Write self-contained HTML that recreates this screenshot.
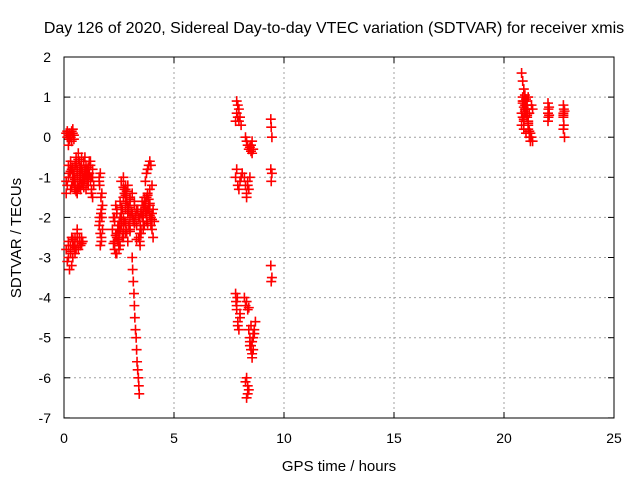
<!DOCTYPE html>
<html><head><meta charset="utf-8"><style>
body{margin:0;background:#fff}
svg{display:block;font-family:"Liberation Sans",sans-serif}
</style></head><body>
<svg id="chart" width="640" height="480">
<rect x="0" y="0" width="640" height="480" fill="#fff"/>
<g id="grid"></g>
<g id="axes"></g>
<g id="marks"></g>
<text x="334" y="33" font-size="16" text-anchor="middle">Day 126 of 2020, Sidereal Day-to-day VTEC variation (SDTVAR) for receiver xmis</text>
<text x="339" y="471" font-size="15" text-anchor="middle">GPS time / hours</text>
<text transform="translate(21,238) rotate(-90)" font-size="15" text-anchor="middle">SDTVAR / TECUs</text>
</svg>
<script>
const xTicks=[0,5,10,15,20,25];
const yTicks=[2,1,0,-1,-2,-3,-4,-5,-6,-7];
const times=[0.1,0.15,0.2,0.25,0.3,0.35,0.4,0.45,0.2,0.3,0.4,0.1,0.15,0.2,0.25,0.3,0.35,0.4,0.45,0.5,0.1,0.2,0.3,
0.1,0.15,0.2,0.3,0.35,0.4,0.5,0.55,0.6,0.7,0.75,0.8,0.85,0.2,0.3,0.4,0.5,0.6,0.7,0.25,0.35,0.45,0.65,
0.4,0.5,0.55,0.6,0.65,0.7,0.75,0.8,0.85,0.9,0.95,1.0,1.05,1.1,1.15,1.2,1.25,1.3,0.6,0.7,0.8,0.9,1.0,1.1,1.2,1.3,0.5,0.6,0.7,0.8,0.9,1.0,1.1,1.2,1.3,1.35,0.45,0.55,0.75,0.95,1.15,1.25,
1.6,1.62,1.65,1.68,1.7,1.72,1.75,1.6,1.65,1.7,1.62,1.68,1.75,1.6,1.7,1.65,1.72,1.63,
2.2,2.3,2.4,2.5,2.6,2.7,2.8,2.9,3.0,2.3,2.4,2.5,2.6,2.7,2.8,2.9,3.0,3.1,2.25,2.35,2.45,2.55,2.65,2.75,2.85,2.95,2.4,2.5,2.6,2.7,2.8,2.9,3.0,3.1,3.2,3.3,3.4,2.6,2.7,2.75,2.8,2.85,2.9,3.0,3.2,3.3,2.3,2.35,2.45,2.5,2.55,
3.1,3.12,3.15,3.18,3.2,3.22,3.25,3.28,3.3,3.32,3.35,3.38,3.4,3.42,3.44,3.45,3.46,3.47,
3.4,3.5,3.6,3.7,3.8,3.9,4.0,4.05,3.45,3.55,3.65,3.75,3.85,3.95,4.0,3.5,3.6,3.7,3.8,3.9,4.0,3.7,3.75,3.8,3.85,3.9,3.95,4.05,4.1,3.5,3.6,3.65,3.75,3.85,
7.8,7.85,7.9,7.95,8.0,8.05,7.85,7.9,7.95,7.8,7.9,8.0,8.1,7.85,7.95,8.05,
8.25,8.3,8.35,8.4,8.45,8.5,8.55,8.6,8.5,8.55,8.2,8.25,8.3,8.35,8.4,8.45,8.3,8.35,
9.4,9.42,9.45,9.4,9.45,9.42,9.4,9.45,9.42,
7.8,7.82,7.85,7.9,7.95,8.0,7.85,7.9,8.0,7.88,
8.2,8.25,8.3,8.35,8.4,8.3,8.35,8.4,8.3,8.25,8.35,
8.4,8.45,8.5,8.55,8.6,8.65,8.7,8.45,8.5,8.55,8.6,8.65,8.5,8.55,8.6,8.45,
20.8,20.85,20.9,20.85,20.9,20.95,21.0,20.8,20.85,20.9,20.95,21.0,21.05,21.1,20.8,20.9,21.0,21.1,20.85,20.95,21.05,21.1,21.15,21.2,21.25,21.3,21.2,21.25,21.3,21.15,
22.0,22.02,22.05,22.0,22.05,22.02,22.0,
22.7,22.72,22.7,22.75,22.7,22.72,22.7,22.75,22.7,
0.15,0.25,0.35,0.45,0.2,0.3,0.4,0.5,0.6,0.7,0.8,0.9,1.0,1.1,1.2,0.55,0.65,0.75,0.85,0.95,1.05,1.15,1.25,0.35,0.45,0.55,0.65,0.75,0.85,0.95,1.05,0.2,0.3,0.4,0.5,0.6,0.7,0.8,0.3,0.4,0.5,0.6,
2.3,2.4,2.5,2.6,2.7,2.8,2.9,3.0,3.1,3.2,2.35,2.45,2.55,2.65,2.75,2.85,2.95,3.05,3.15,3.25,3.35,2.4,2.5,2.6,2.7,2.8,2.9,2.5,2.6,2.7,2.8,3.0,3.1,3.2,3.3,2.25,2.4,2.55,2.7,2.85,
3.5,3.6,3.7,3.8,3.9,4.0,3.55,3.65,3.75,3.85,3.95,3.6,3.7,3.8,3.9,
20.85,20.9,20.95,21.0,21.05,20.9,21.0,21.05,21.1,21.15,20.95,21.0,21.1];
const values=[0.1,0.15,0.05,0.1,0.0,-0.1,0.1,-0.05,-0.2,0.05,0.2,-1.1,-1.2,-1.0,-0.9,-1.3,-0.8,-1.1,-0.9,-1.2,-1.4,-0.7,-0.6,
-2.8,-3.1,-2.6,-2.9,-3.2,-2.7,-2.5,-2.8,-2.4,-2.6,-2.7,-2.5,-2.6,-3.0,-2.7,-3.0,-2.9,-2.3,-2.6,-3.3,-2.5,-2.7,-2.8,
-0.9,-0.7,-0.5,-0.8,-0.4,-0.6,-0.9,-0.7,-1.0,-0.6,-0.8,-0.7,-1.0,-0.9,-0.6,-1.1,-1.3,-0.8,-1.2,-1.1,-0.5,-1.0,-0.9,-1.2,-0.7,-1.0,-1.3,-1.4,-1.2,-0.8,-1.1,-1.3,-1.0,-0.6,-1.5,-1.2,-1.0,-0.6,-1.3,-0.5,-0.9,-1.4,
-1.0,-1.2,-0.9,-1.5,-1.8,-2.0,-1.7,-2.2,-2.4,-2.6,-2.0,-1.9,-2.3,-1.1,-2.5,-2.7,-1.4,-2.1,
-2.3,-2.0,-1.8,-2.2,-1.9,-2.1,-2.4,-1.7,-2.0,-2.6,-2.4,-2.8,-2.2,-2.5,-1.8,-2.6,-2.3,-1.9,-2.0,-1.7,-2.3,-1.6,-2.5,-2.1,-1.5,-2.2,-2.9,-2.7,-2.0,-1.5,-1.3,-1.2,-1.6,-1.4,-1.7,-1.8,-2.0,-1.1,-1.0,-1.3,-1.2,-1.6,-1.9,-1.5,-1.6,-2.2,-2.8,-2.9,-2.6,-2.4,-2.7,
-3.0,-3.3,-3.6,-3.9,-4.2,-4.5,-4.8,-5.0,-5.3,-5.6,-5.8,-6.0,-6.2,-6.4,-2.6,-2.4,-2.7,-2.2,
-2.5,-2.3,-2.1,-1.9,-1.8,-1.7,-1.9,-2.5,-2.0,-1.6,-2.2,-1.5,-1.7,-2.0,-2.3,-2.4,-1.8,-1.6,-1.4,-1.3,-1.2,-1.1,-0.9,-0.8,-0.7,-0.6,-0.7,-1.8,-2.1,-1.9,-1.7,-1.5,-2.1,-1.8,
0.4,0.6,0.8,0.7,0.5,0.3,0.9,0.5,0.4,-1.0,-1.2,-1.1,-0.9,-0.8,-1.3,-1.0,
0.0,-0.1,-0.2,-0.3,-0.25,-0.35,-0.4,-0.3,-0.2,-0.1,-1.0,-1.2,-1.4,-1.1,-1.3,-1.0,-1.5,-1.2,
0.45,0.25,0.0,-0.8,-0.9,-1.1,-3.2,-3.5,-3.6,
-3.9,-4.1,-4.3,-4.6,-4.8,-4.5,-4.2,-4.7,-4.4,-4.0,
-4.0,-4.2,-4.1,-4.3,-4.25,-6.0,-6.2,-6.3,-6.5,-6.1,-6.4,
-4.8,-5.0,-5.2,-5.5,-5.3,-4.9,-4.6,-5.1,-4.7,-5.4,-5.0,-4.8,-5.3,-5.1,-4.9,-5.2,
1.6,1.4,1.2,1.0,0.9,0.8,0.7,0.6,0.5,0.4,0.6,0.8,0.9,1.0,0.3,0.2,0.1,0.3,0.9,0.7,0.5,0.2,0.0,-0.1,0.0,-0.1,0.1,0.8,0.7,0.6,
0.85,0.7,0.55,0.6,0.75,0.5,0.4,
0.8,0.7,0.6,0.65,0.5,0.3,0.2,0.0,0.55,
0.0,-0.05,0.15,0.05,-1.0,-0.85,-0.75,-1.05,-0.95,-0.85,-1.15,-1.25,-0.95,-0.75,-1.0,-0.65,-0.55,-0.75,-0.85,-1.05,-1.1,-0.9,-1.0,-1.2,-1.1,-1.35,-1.25,-1.05,-1.15,-0.95,-0.8,-2.7,-2.85,-2.55,-2.75,-2.6,-2.5,-2.65,-0.7,-0.9,-1.25,-0.95,
-2.1,-1.9,-2.3,-1.75,-2.05,-1.65,-1.85,-1.55,-1.95,-2.15,-2.45,-2.2,-2.0,-1.8,-1.4,-1.35,-1.75,-1.85,-2.05,-1.95,-1.8,-1.8,-2.55,-2.2,-2.35,-2.15,-1.85,-2.7,-2.0,-1.25,-1.45,-2.35,-1.9,-2.1,-2.55,-2.65,-2.5,-2.3,-2.15,-2.35,
-1.85,-2.0,-1.75,-2.15,-1.65,-2.05,-1.95,-1.7,-1.85,-1.55,-2.2,-2.3,-1.6,-1.45,-1.95,
0.85,0.75,0.65,0.8,0.55,0.45,0.95,0.7,0.35,0.15,1.05,0.6,0.4];
const X=t=>64+t*22, Y=v=>57+(2-v)*40.1;
const NS="http://www.w3.org/2000/svg";
const grid=document.getElementById('grid'),axes=document.getElementById('axes'),marks=document.getElementById('marks');
function mk(tag,attrs,parent){const e=document.createElementNS(NS,tag);for(const k in attrs)e.setAttribute(k,attrs[k]);parent.appendChild(e);return e;}
xTicks.forEach(t=>{
  if(t>0&&t<25){const g=mk('line',{x1:X(t),x2:X(t),y1:57,y2:418,stroke:'#a0a0a0','stroke-dasharray':'2,3'},grid);
  
  }
  const a=mk('line',{x1:X(t),x2:X(t),y1:418,y2:412,stroke:'#000'},axes);
  
  
  const b=mk('line',{x1:X(t),x2:X(t),y1:57,y2:63,stroke:'#000'},axes);
  
  
  const tx=mk('text',{x:X(t),y:443,'font-size':14,'text-anchor':'middle'},axes);tx.textContent=t;
  
  
});
yTicks.forEach(v=>{
  if(v<2&&v>-7){const g=mk('line',{x1:64,x2:614,y1:Y(v),y2:Y(v),stroke:'#a0a0a0','stroke-dasharray':'2,3'},grid);
  
  }
  const a=mk('line',{x1:64,x2:70,y1:Y(v),y2:Y(v),stroke:'#000'},axes);
  
  
  const b=mk('line',{x1:608,x2:614,y1:Y(v),y2:Y(v),stroke:'#000'},axes);
  
  
  const tx=mk('text',{x:51,y:Y(v)+5,'font-size':14,'text-anchor':'end'},axes);tx.textContent=v;
  
  
});
const fr=mk('rect',{x:64,y:57,width:550,height:361,fill:'none',stroke:'#000'},axes);


times.forEach((t,i)=>{
  const x=X(t),y=Y(values[i]);
  const p=mk('path',{d:`M${x-5},${y}h10M${x},${y-5}v10`,stroke:'#f00','stroke-width':1.6},marks);
  
  
});
</script>
</body></html>
